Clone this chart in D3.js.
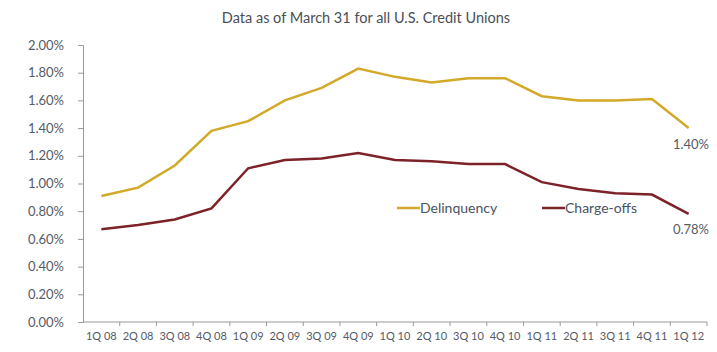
<!DOCTYPE html>
<html>
<head>
<meta charset="utf-8">
<script src="https://cdn.jsdelivr.net/npm/d3@7"></script>
<style>
  body { margin: 0; background: #fff; }
  svg text { font-family: Lato, "Open Sans", sans-serif; fill: #4a4f57; }
</style>
</head>
<body>
<div id="chart"></div>
<script>
// quarters shown on the x axis
const quarters = ["1Q 08", "2Q 08", "3Q 08", "4Q 08", "1Q 09", "2Q 09", "3Q 09", "4Q 09",
                  "1Q 10", "2Q 10", "3Q 10", "4Q 10", "1Q 11", "2Q 11", "3Q 11", "4Q 11", "1Q 12"];

// percent values
const delinquency = [0.91, 0.97, 1.13, 1.38, 1.45, 1.60, 1.69, 1.83, 1.77, 1.73, 1.76, 1.76, 1.63, 1.60, 1.60, 1.61, 1.40];
const chargeOffs  = [0.67, 0.70, 0.74, 0.82, 1.11, 1.17, 1.18, 1.22, 1.17, 1.16, 1.14, 1.14, 1.01, 0.96, 0.93, 0.92, 0.78];

const yTicks = [0, 0.2, 0.4, 0.6, 0.8, 1.0, 1.2, 1.4, 1.6, 1.8, 2.0];

const W = 717, H = 352;

const svg = d3.select("#chart").append("svg")
    .attr("width", W)
    .attr("height", H);

// title
svg.append("text")
    .attr("x", 366)
    .attr("y", 23)
    .attr("text-anchor", "middle")
    .style("font-size", "14.5px")
    .text("Data as of March 31 for all U.S. Credit Unions");

const x = d3.scaleBand()
    .domain(quarters)
    .range([83, 707]);

const y = d3.scaleLinear()
    .domain([0, 2])
    .range([322, 45]);

// y axis
const yAxis = svg.append("g")
    .attr("transform", "translate(83,0)")
    .call(d3.axisLeft(y).tickValues(yTicks).tickSize(5).tickPadding(14)
        .tickFormat(function(d) { return d.toFixed(2) + "%"; }));
yAxis.selectAll("text").style("font-size", "13px").style("fill", "#555b66");

// x axis - ticks sit between the categories, like Excel
const xAxis = svg.append("g")
    .attr("transform", "translate(0,322)");
xAxis.append("line")
    .attr("x1", 83).attr("x2", 707)
    .attr("stroke", "#999");
xAxis.selectAll(".xt")
    .data(quarters)
    .enter()
    .append("line")
    .attr("x1", function(d) { return x(d) + x.bandwidth(); })
    .attr("x2", function(d) { return x(d) + x.bandwidth(); })
    .attr("y1", 0).attr("y2", 4)
    .attr("stroke", "#999");
xAxis.selectAll(".xl")
    .data(quarters)
    .enter()
    .append("text")
    .attr("x", function(d) { return x(d) + x.bandwidth() / 2; })
    .attr("y", 18)
    .attr("text-anchor", "middle")
    .style("font-size", "11px")
    .style("fill", "#555b66")
    .text(function(d) { return d; });

svg.selectAll(".domain, .tick line").attr("stroke", "#999");

// lines
const line = d3.line()
    .x(function(d, i) { return x(quarters[i]) + x.bandwidth() / 2; })
    .y(function(d) { return y(d); });

svg.append("path")
    .datum(delinquency)
    .attr("d", line)
    .attr("fill", "none")
    .attr("stroke", "#d2a928")
    .attr("stroke-width", 2.5);

svg.append("path")
    .datum(chargeOffs)
    .attr("d", line)
    .attr("fill", "none")
    .attr("stroke", "#7d2228")
    .attr("stroke-width", 2.5);

// end labels
const last = quarters.length - 1;
svg.append("text")
    .attr("x", 709)
    .attr("y", y(delinquency[last]) + 21)
    .attr("text-anchor", "end")
    .style("font-size", "13px")
    .style("fill", "#555b66")
    .text(delinquency[last].toFixed(2) + "%");
svg.append("text")
    .attr("x", 709)
    .attr("y", y(chargeOffs[last]) + 20)
    .attr("text-anchor", "end")
    .style("font-size", "13px")
    .style("fill", "#555b66")
    .text(chargeOffs[last].toFixed(2) + "%");

// legend
const legend = [
    {name: "Delinquency", color: "#d2a928", x: 397},
    {name: "Charge-offs", color: "#7d2228", x: 542}
];
legend.forEach(function(l) {
    svg.append("line")
        .attr("x1", l.x).attr("x2", l.x + 23)
        .attr("y1", 208).attr("y2", 208)
        .attr("stroke", l.color)
        .attr("stroke-width", 2.5);
    svg.append("text")
        .attr("x", l.x + 23)
        .attr("y", 213)
        .style("font-size", "14px")
        .style("fill", "#4a5260")
        .text(l.name);
});
</script>
</body>
</html>
